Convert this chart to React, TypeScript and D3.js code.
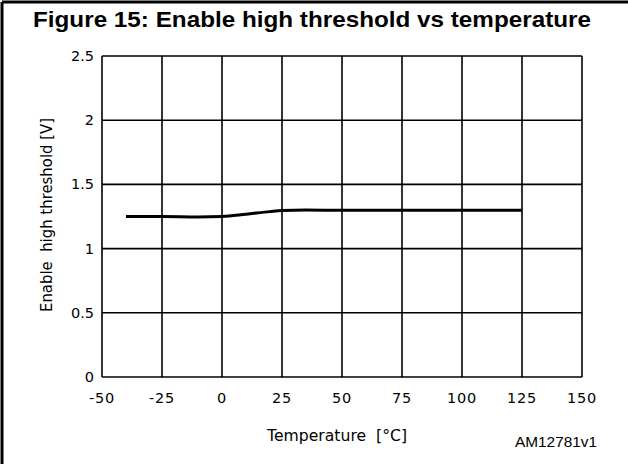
import { useEffect, useRef } from 'react';
import * as d3 from 'd3';

const WIDTH = 628;
const HEIGHT = 464;
const PLOT = { left: 102, top: 56, right: 582, bottom: 377 };

// curve
const temps = [-40, -25, -10, 0, 10, 20, 25, 35, 50, 75, 100, 125];
const volts = [1.25, 1.25, 1.247, 1.25, 1.268, 1.288, 1.296, 1.3, 1.298, 1.298, 1.298, 1.298];

const xTicks = [-50, -25, 0, 25, 50, 75, 100, 125, 150];
const yTicks = [0, 0.5, 1, 1.5, 2, 2.5];

const TICK_FONT = '"DejaVu Sans", Verdana, sans-serif';

export default function App() {
  const svgRef = useRef<SVGSVGElement>(null);

  useEffect(() => {
    if (!svgRef.current) return;
    const svg = d3.select(svgRef.current);
    svg.selectAll('*').remove();

    const x = d3.scaleLinear().domain([-50, 150]).range([PLOT.left, PLOT.right]);
    const y = d3.scaleLinear().domain([0, 2.5]).range([PLOT.bottom, PLOT.top]);

    // outer frame (top and left edges visible)
    svg.append('line').attr('x1', 2).attr('x2', WIDTH).attr('y1', 2).attr('y2', 2)
      .attr('stroke', '#000').attr('stroke-width', 3);
    svg.append('line').attr('x1', 2).attr('x2', 2).attr('y1', 2).attr('y2', HEIGHT)
      .attr('stroke', '#000').attr('stroke-width', 3);

    // title
    svg.append('text')
      .attr('x', 33).attr('y', 27)
      .attr('textLength', 558)
      .attr('lengthAdjust', 'spacingAndGlyphs')
      .style('font-family', '"Liberation Sans", Arial, sans-serif')
      .style('font-weight', 'bold')
      .style('font-size', '22.5px')
      .style('fill', '#000')
      .text('Figure 15: Enable high threshold vs temperature');

    // grid
    const grid = svg.append('g').attr('stroke', '#000').attr('stroke-width', 1.6);
    grid.selectAll('.vg').data(xTicks).join('line')
      .attr('x1', d => x(d)).attr('x2', d => x(d))
      .attr('y1', PLOT.top).attr('y2', PLOT.bottom);
    grid.selectAll('.hg').data(yTicks).join('line')
      .attr('x1', PLOT.left).attr('x2', PLOT.right)
      .attr('y1', d => y(d)).attr('y2', d => y(d));

    // tick labels
    svg.append('g').selectAll('text').data(yTicks).join('text')
      .attr('x', PLOT.left - 8).attr('y', d => y(d) + 5)
      .attr('text-anchor', 'end')
      .style('font-family', TICK_FONT).style('font-size', '14.5px').style('fill', '#000')
      .text(d => String(d));
    svg.append('g').selectAll('text').data(xTicks).join('text')
      .attr('x', d => x(d)).attr('y', 403)
      .attr('text-anchor', 'middle')
      .style('font-family', TICK_FONT).style('font-size', '14.5px')
      .style('letter-spacing', '0.8px').style('fill', '#000')
      .text(d => String(d));

    // axis titles
    svg.append('text')
      .attr('transform', `translate(52, 215) rotate(-90)`)
      .attr('text-anchor', 'middle')
      .attr('textLength', 194)
      .attr('lengthAdjust', 'spacingAndGlyphs')
      .style('font-family', TICK_FONT).style('font-size', '15.5px').style('fill', '#000')
      .style('white-space', 'pre')
      .text('Enable  high threshold [V]');
    svg.append('text')
      .attr('x', 337).attr('y', 441)
      .attr('text-anchor', 'middle')
      .attr('textLength', 140)
      .attr('lengthAdjust', 'spacingAndGlyphs')
      .style('font-family', TICK_FONT).style('font-size', '15px').style('fill', '#000')
      .style('white-space', 'pre')
      .text('Temperature  [°C]');
    svg.append('text')
      .attr('x', 515).attr('y', 447)
      .attr('textLength', 82)
      .attr('lengthAdjust', 'spacingAndGlyphs')
      .style('font-family', '"Liberation Sans", Arial, sans-serif').style('font-size', '14px').style('fill', '#000')
      .text('AM12781v1');

    // curve
    const line = d3.line<number>()
      .x((_, i) => x(temps[i]))
      .y(d => y(d))
      .curve(d3.curveMonotoneX);
    svg.append('path')
      .datum(volts)
      .attr('d', line)
      .attr('fill', 'none')
      .attr('stroke', '#000')
      .attr('stroke-width', 3);
  }, []);

  return (
    <svg
      ref={svgRef}
      width={WIDTH}
      height={HEIGHT}
      style={{ position: 'absolute', left: 0, top: 0, background: '#fff' }}
    />
  );
}
